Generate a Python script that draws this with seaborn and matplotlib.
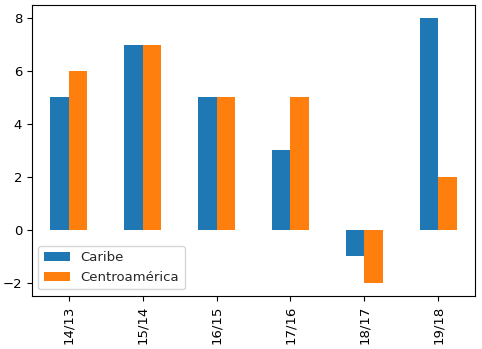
import matplotlib
matplotlib.use("Agg")
import matplotlib.pyplot as plt
import seaborn as sns
import pandas as pd

periods = ["14/13", "15/14", "16/15", "17/16", "18/17", "19/18"]
caribe = [5, 7, 5, 3, -1, 8]
centro = [6, 7, 5, 5, -2, 2]

df = pd.DataFrame({
    "period": periods * 2,
    "value": caribe + centro,
    "region": ["Caribe"] * len(periods) + ["Centroamérica"] * len(periods),
})

sns.set_style("white")
plt.rcParams['font.family'] = ['DejaVu Sans']
fig = plt.figure(figsize=(4.82, 3.49), dpi=100)
ax = fig.add_axes([0.066, 0.152, 0.920, 0.834])
sns.barplot(data=df, x="period", y="value", hue="region", width=0.5,
            palette=["#1f77b4", "#ff7f0e"], saturation=1, ax=ax, errorbar=None,
            linewidth=0, edgecolor="none")
ax.set_xlim(-0.5, 5.5)
ax.set_ylim(-2.5, 8.5)
ax.set_xlabel("")
ax.set_ylabel("")
for s in ax.spines.values():
    s.set_color("black")
    s.set_linewidth(0.8)
ax.tick_params(axis="both", which="both", length=3.5, width=0.8, labelsize=9.5, left=True, bottom=True, colors="black")
plt.setp(ax.get_xticklabels(), rotation=90)
ax.legend(loc="lower left", title=None, fontsize=9.5, frameon=True)
fig.savefig("out.png", dpi=100)
